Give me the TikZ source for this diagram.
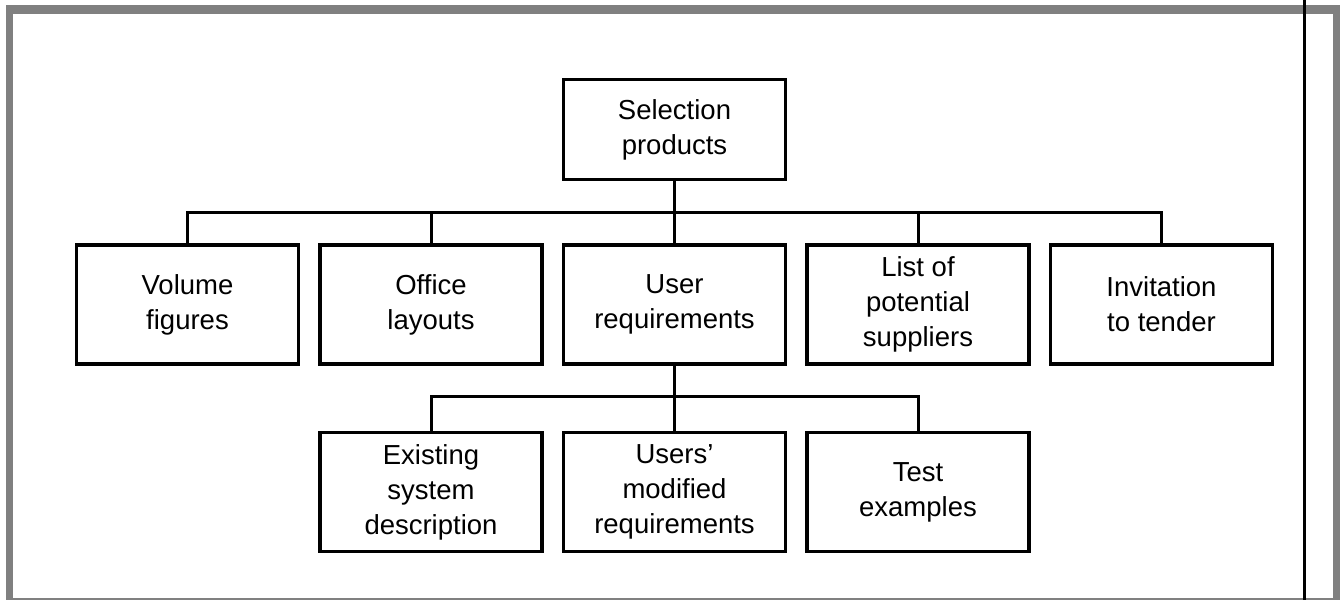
\documentclass[tikz,border=0pt]{standalone}
\usepackage{fontspec}
\setmainfont{Liberation Sans}
\usetikzlibrary{positioning,calc}
\definecolor{framegray}{RGB}{128,128,128}

\begin{document}
\begin{tikzpicture}[x=1pt,y=1pt,line width=3pt,node distance=65pt and 18pt,
  b/.style={draw,line width=3.5pt,minimum width=222pt,minimum height=119pt,align=center,
    font=\fontsize{27.5}{35}\selectfont}]
\useasboundingbox (0,0) rectangle (1344,600);
% frame
\fill[framegray] (6,586) rectangle (1340,595);
\fill[framegray] (6,0) rectangle (13,595);
\fill[framegray] (1333,0) rectangle (1340,595);
\fill[framegray] (6,0) rectangle (1340,2);
\fill[black] (1303,0) rectangle (1305.5,600);
% tree
\node[b,minimum height=100pt] (top) at (674.5,470.5) {Selection\\products};
\node[b,below=62pt of top] (usr) {User\\requirements};
\node[b,left=of usr] (off) {Office\\layouts};
\node[b,left=of off] (vol) {Volume\\figures};
\node[b,right=of usr] (lst) {List of\\potential\\suppliers};
\node[b,right=of lst] (inv) {Invitation\\to tender};
\node[b,below=of off] (ex) {Existing\\system\\description};
\node[b,below=of usr] (um) {Users'\\modified\\requirements};
\node[b,below=of lst] (tst) {Test\\examples};
\coordinate (bus) at ($(top.south)!0.5!(usr.north)$);
\coordinate (bus2) at ($(usr.south)!0.48!(um.north)$);
\draw (top.south) -- (usr.north);
\draw (vol.north) |- (bus) -| (inv.north);
\foreach \n in {off,lst} \draw (\n.north) -- (\n.north |- bus);
\draw (usr.south) -- (um.north);
\draw (ex.north) |- (bus2) -| (tst.north);
\end{tikzpicture}
\end{document}
